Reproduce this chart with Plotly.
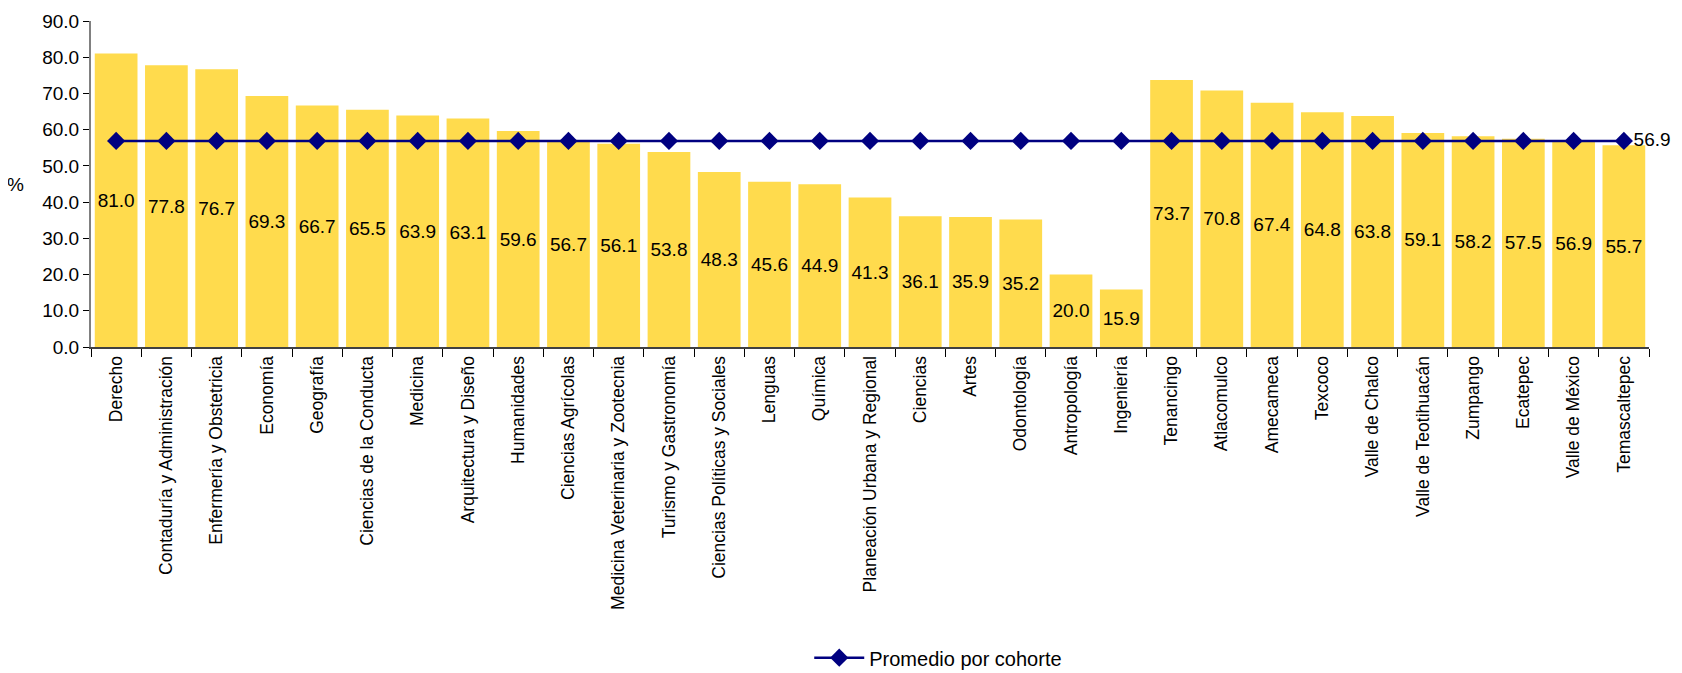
import plotly.graph_objects as go

categories = ["Derecho", "Contaduría y Administración", "Enfermería y Obstetricia", "Economía",
              "Geografía", "Ciencias de la Conducta", "Medicina", "Arquitectura y Diseño",
              "Humanidades", "Ciencias Agrícolas", "Medicina Veterinaria y Zootecnia",
              "Turismo y Gastronomía", "Ciencias Políticas y Sociales", "Lenguas", "Química",
              "Planeación Urbana y Regional", "Ciencias", "Artes", "Odontología", "Antropología",
              "Ingeniería", "Tenancingo", "Atlacomulco", "Amecameca", "Texcoco", "Valle de Chalco",
              "Valle de Teotihuacán", "Zumpango", "Ecatepec", "Valle de México", "Temascaltepec"]
values = [81.0, 77.8, 76.7, 69.3, 66.7, 65.5, 63.9, 63.1, 59.6, 56.7, 56.1, 53.8, 48.3, 45.6,
          44.9, 41.3, 36.1, 35.9, 35.2, 20.0, 15.9, 73.7, 70.8, 67.4, 64.8, 63.8, 59.1, 58.2,
          57.5, 56.9, 55.7]
promedio = 56.9
promedio_series = [promedio] * len(categories)
y_ticks = [0, 10, 20, 30, 40, 50, 60, 70, 80, 90]

FONT = "Liberation Sans, Arial, sans-serif"

fig = go.Figure()
fig.add_trace(go.Bar(
    x=categories, y=values,
    marker=dict(color="#FFDB4D", line=dict(width=0)),
    text=[f"{v:.1f}" for v in values],
    textposition="inside", insidetextanchor="middle", textangle=0,
    textfont=dict(family=FONT, size=19, color="black"),
    showlegend=False, hoverinfo="x+y",
))
line_text = [""] * (len(categories) - 1) + [f"{promedio:.1f}"]
fig.add_trace(go.Scatter(
    x=categories, y=promedio_series,
    mode="lines+markers+text",
    name="Promedio por cohorte",
    line=dict(color="#000080", width=2.5),
    marker=dict(symbol="diamond", size=14, color="#000080"),
    text=line_text, textposition="middle right",
    textfont=dict(family=FONT, size=19, color="black"),
    cliponaxis=False,
))

fig.update_layout(
    width=1674, height=665,
    margin=dict(l=83, r=33, t=13, b=326),
    plot_bgcolor="white", paper_bgcolor="white",
    font=dict(family=FONT, color="black"),
    bargap=0.15,
    uniformtext=dict(minsize=19, mode="show"),
    showlegend=True,
    legend=dict(orientation="h", x=0.461, xanchor="left", yref="container", y=0.023, yanchor="middle",
                font=dict(family=FONT, size=20), itemwidth=50, bgcolor="rgba(0,0,0,0)"),
    xaxis=dict(
        tickangle=-90, tickfont=dict(family=FONT, size=17.5), automargin=False,
        showline=True, linecolor="#404040", linewidth=2,
        ticks="outside", tickson="boundaries", ticklen=8, tickcolor="black",
        showgrid=False, range=[-0.5, len(categories) - 0.5],
    ),
    yaxis=dict(
        range=[0, 90], tickvals=y_ticks, ticktext=[f"{t:.1f}" for t in y_ticks],
        tickfont=dict(family=FONT, size=19), automargin=False,
        showline=True, linecolor="#808080", linewidth=2,
        ticks="outside", ticklen=6, tickcolor="black",
        showgrid=False, zeroline=False,
    ),
    annotations=[dict(text="%", xref="paper", yref="paper", x=-0.042, y=0.5,
                      xanchor="right", yanchor="middle", showarrow=False,
                      font=dict(family=FONT, size=19))],
)

fig.write_html("out.html")
